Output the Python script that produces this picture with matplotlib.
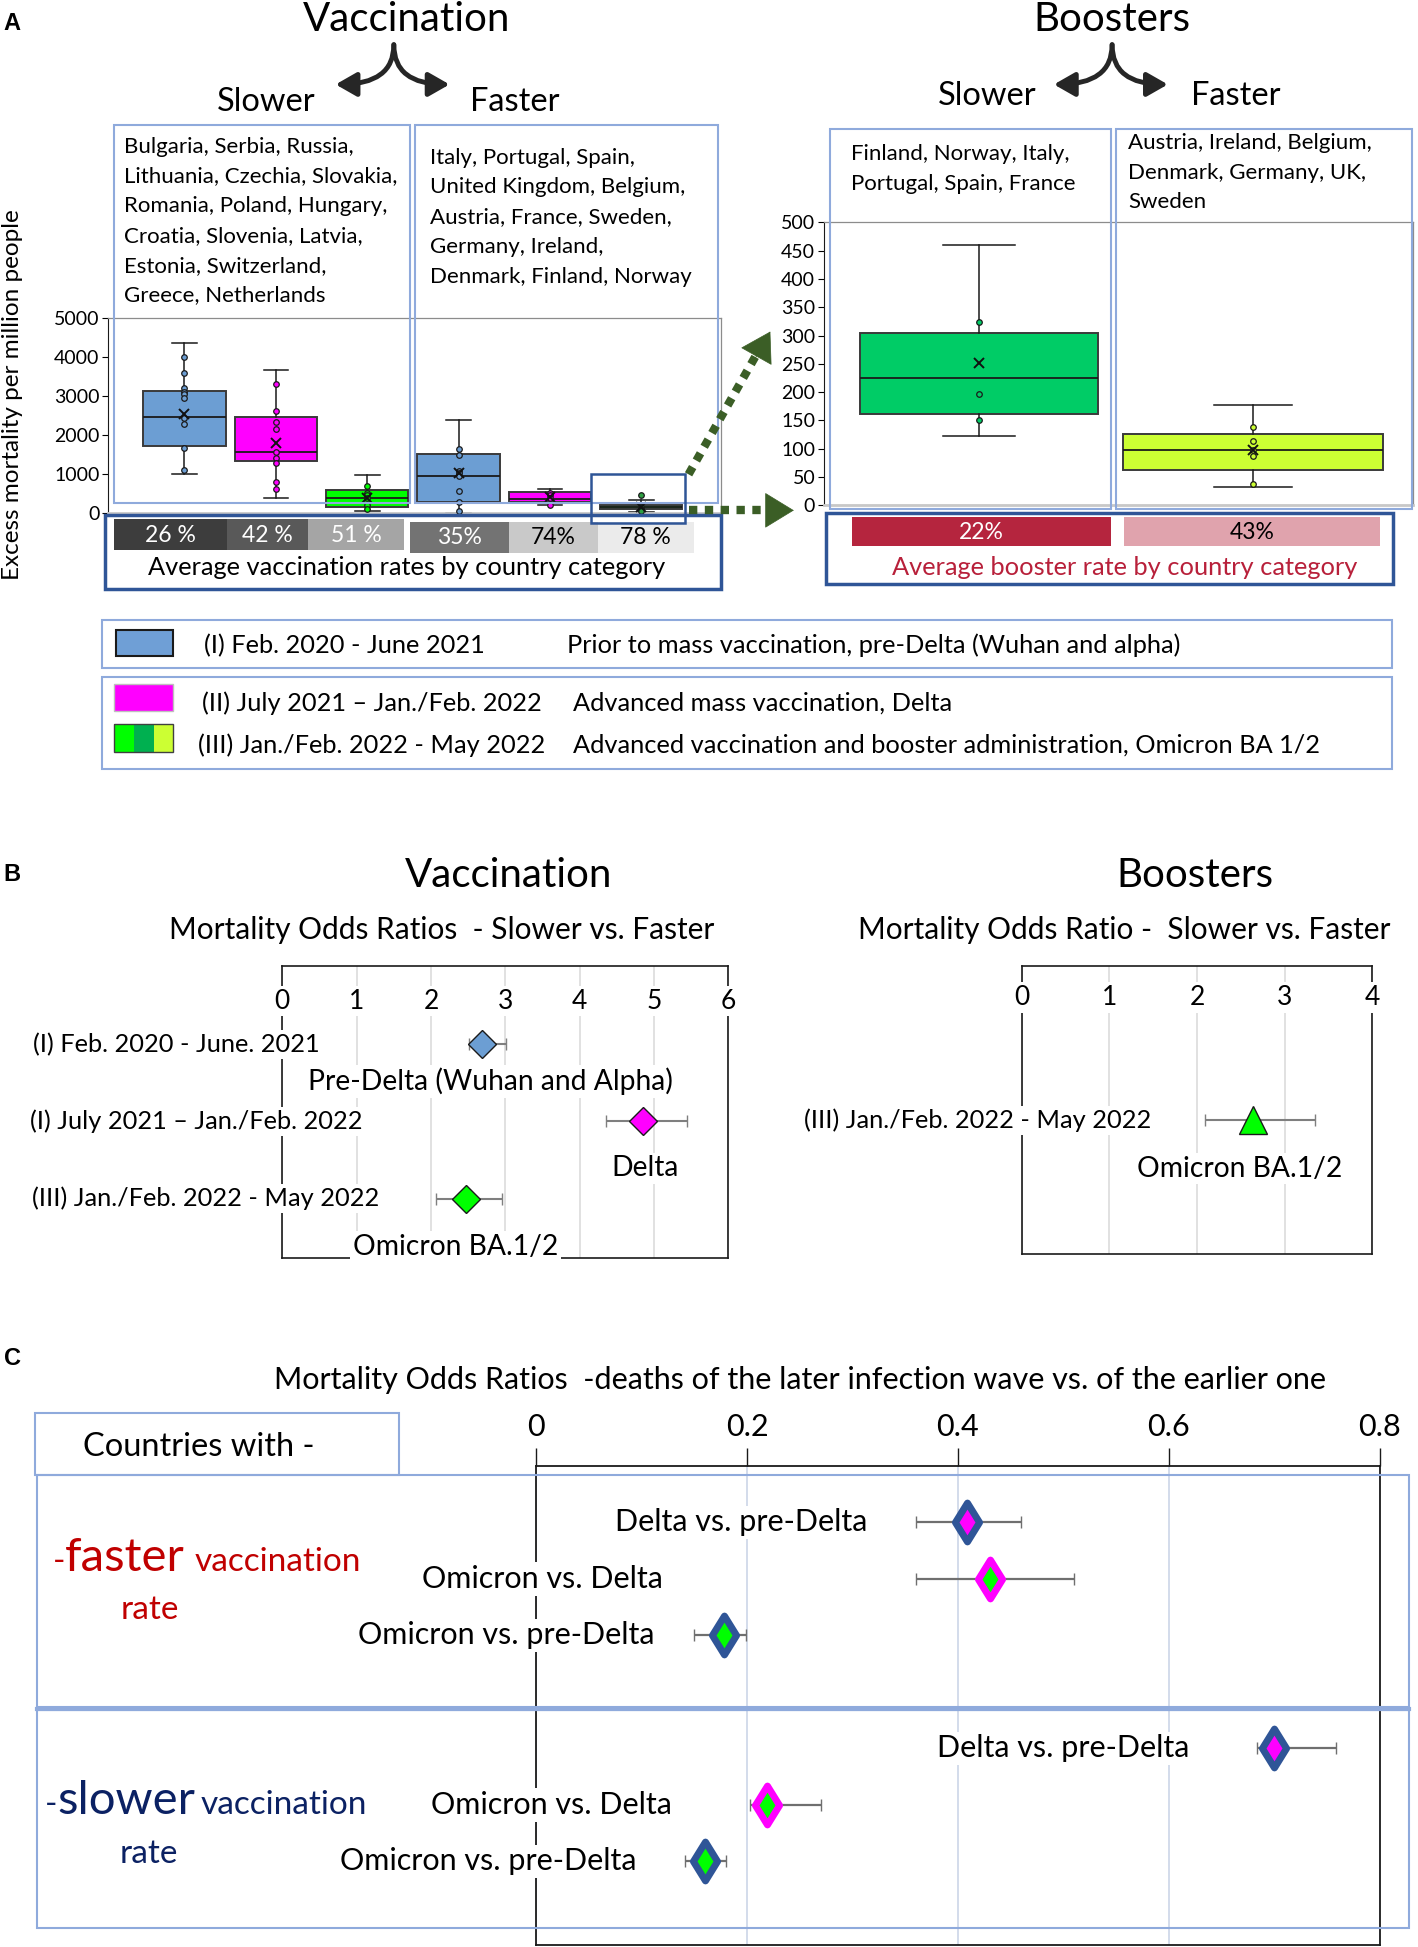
import matplotlib
matplotlib.use('Agg')
import matplotlib.pyplot as plt
from matplotlib.patches import Rectangle
from matplotlib.path import Path
import numpy as np

plt.rcParams['font.family'] = ['Lato', 'DejaVu Sans']

# ---------------- DATA ----------------
# Panel A: excess mortality per million people (box plot statistics)
vacc_groups = ['Slower I', 'Slower II', 'Slower III', 'Faster I', 'Faster II', 'Faster III']
vacc_q1 = [1707, 1328, 147, 270, 276, 103]
vacc_med = [2448, 1552, 388, 940, 362, 155]
vacc_q3 = [3129, 2448, 595, 1509, 534, 207]
vacc_wlo = [1000, 388, 52, 0, 190, 26]
vacc_whi = [4360, 3672, 974, 2370, 620, 319]
vacc_mean = [2530, 1800, 380, 1009, 410, 160]
vacc_points = [
    [4000, 3580, 3200, 3090, 3040, 2940, 2420, 2280, 1670, 1100],
    [3300, 2600, 2330, 2140, 1550, 1400, 1270, 780, 620],
    [680, 510, 450, 370, 190, 86],
    [1640, 1490, 1080, 1010, 940, 560, 280, 35],
    [510, 450, 390, 210],
    [465, 150, 103, 35],
]
vacc_rates = ['26 %', '42 %', '51 %', '35%', '74%', '78 %']

boost_groups = ['Slower III', 'Faster III']
boost_q1 = [162, 62]
boost_med = [225, 97]
boost_q3 = [305, 126]
boost_wlo = [122, 33]
boost_whi = [460, 177]
boost_mean = [251, 98]
boost_points = [[323, 197, 150], [138, 114, 97, 87, 37]]
boost_rates = ['22%', '43%']

slower_vacc_countries = ["Bulgaria, Serbia, Russia,", "Lithuania, Czechia, Slovakia,",
                         "Romania, Poland, Hungary,", "Croatia, Slovenia, Latvia,",
                         "Estonia, Switzerland,", "Greece, Netherlands"]
faster_vacc_countries = ["Italy, Portugal, Spain,", "United Kingdom, Belgium,",
                         "Austria, France, Sweden,", "Germany, Ireland,",
                         "Denmark, Finland, Norway"]
slower_boost_countries = ["Finland, Norway, Italy,", "Portugal, Spain, France"]
faster_boost_countries = ["Austria, Ireland, Belgium,", "Denmark, Germany, UK,", "Sweden"]

legend_periods = ["(I) Feb. 2020 - June 2021", "(II) July 2021 \u2013 Jan./Feb. 2022",
                  "(III) Jan./Feb. 2022 - May 2022"]
legend_desc = ["Prior to mass vaccination, pre-Delta (Wuhan and alpha)",
               "Advanced mass vaccination, Delta",
               "Advanced vaccination and booster administration, Omicron BA 1/2"]

# Panel B: odds ratios slower vs faster
b_labels = ["(I) Feb. 2020 - June. 2021", "(I) July 2021 \u2013 Jan./Feb. 2022",
            "(III) Jan./Feb. 2022 - May 2022"]
b_variants = ["Pre-Delta (Wuhan and Alpha)", "Delta", "Omicron BA.1/2"]
b_or = [2.69, 4.86, 2.47]
b_lo = [2.51, 4.36, 2.07]
b_hi = [3.01, 5.44, 2.96]
bb_labels = ["(III) Jan./Feb. 2022 - May 2022"]
bb_or = [2.64]
bb_lo = [2.09]
bb_hi = [3.35]

# Panel C: odds ratios later vs earlier wave
c_labels = ["Delta vs. pre-Delta", "Omicron vs. Delta", "Omicron vs. pre-Delta",
            "Delta vs. pre-Delta", "Omicron vs. Delta", "Omicron vs. pre-Delta"]
c_or = [0.409, 0.430, 0.178, 0.700, 0.219, 0.160]
c_lo = [0.360, 0.360, 0.150, 0.684, 0.203, 0.141]
c_hi = [0.460, 0.510, 0.199, 0.759, 0.270, 0.180]

# ---------------- STYLE ----------------
BLUE = '#6c9ed3'
MAG = '#ff00ff'
LGREEN = '#00ff00'
DGREEN = '#2ea043'
BGREEN = '#00cc66'
YGREEN = '#ccff33'
LBLUE_EDGE = '#8faadc'
DBLUE_EDGE = '#2f5597'
vacc_colors = [BLUE, MAG, LGREEN, BLUE, MAG, DGREEN]
boost_colors = [BGREEN, YGREEN]

W, H = 1145.0, 1568.0
fig = plt.figure(figsize=(14.18, 19.47), dpi=100)
fig.patch.set_facecolor('white')


def rect(x0, y0, x1, y1):
    return [x0 / W, 1 - y1 / H, (x1 - x0) / W, (y1 - y0) / H]


ov = fig.add_axes([0, 0, 1, 1], zorder=20)
ov.set_xlim(0, W)
ov.set_ylim(H, 0)
ov.axis('off')


def box(x0, y0, x1, y1, ec=LBLUE_EDGE, lw=1.5, fc='none', z=1):
    ov.add_patch(Rectangle((x0, y0), x1 - x0, y1 - y0, fc=fc, ec=ec, lw=lw,
                           fill=(fc != 'none'), zorder=z))


def T(x, y, s, size=13, ha='left', va='center', **kw):
    return ov.text(x, y, s, fontsize=size, ha=ha, va=va, **kw)


LETTER = dict(family=['Liberation Sans', 'DejaVu Sans'], weight='bold')

# ---------------- PANEL A ----------------
T(3, 19, 'A', 17, **LETTER)
T(328, 25, 'Vaccination', 29, ha='center', va='baseline')
T(898, 25, 'Boosters', 29, ha='center', va='baseline')
for cx in (318, 898):
    for dx in (-47, 45):
        ov.annotate('', xy=(cx + dx, 68), xytext=(cx, 36),
                    arrowprops=dict(arrowstyle='-|>,head_length=0.7,head_width=0.4',
                                    connectionstyle='angle3,angleA=90,angleB=0', lw=3.5,
                                    color='#262626', mutation_scale=18,
                                    shrinkA=0, shrinkB=0))
T(215, 82, 'Slower', 23.5, ha='center')
T(416, 82, 'Faster', 23.5, ha='center')
T(797, 77, 'Slower', 23.5, ha='center')
T(998, 77, 'Faster', 23.5, ha='center')

box(92, 101, 331, 405)
box(335, 101, 580, 405)
box(670, 104, 897, 410)
box(901, 104, 1140, 410)
CS = 16
for i, s in enumerate(slower_vacc_countries):
    T(100, 118 + 24 * i, s, CS)
for i, s in enumerate(faster_vacc_countries):
    T(347, 127 + 24 * i, s, CS)
for i, s in enumerate(slower_boost_countries):
    T(687, 124 + 24 * i, s, CS)
for i, s in enumerate(faster_boost_countries):
    T(911, 115 + 24 * i, s, CS)

T(10, 318, 'Excess mortality per million people', 17.5, ha='center', rotation=90)


def draw_box(ax, q1, med, q3, wlo, whi, mean, pts, colors, widths):
    stats = [dict(q1=a, med=b, q3=c, whislo=d, whishi=e, mean=f)
             for a, b, c, d, e, f in zip(q1, med, q3, wlo, whi, mean)]
    pos = np.arange(1, len(stats) + 1)
    bp = ax.bxp(stats, positions=pos, widths=widths,
                capwidths=[w * 0.3 for w in widths], patch_artist=True,
                showmeans=True, showfliers=False,
                meanprops=dict(marker='x', mec='#111111', ms=7, mew=1.4, zorder=6),
                medianprops=dict(color='#1a1a1a', lw=1.3),
                whiskerprops=dict(color='#1a1a1a', lw=1.1),
                capprops=dict(color='#1a1a1a', lw=1.1),
                boxprops=dict(lw=1.4))
    for patch, c in zip(bp['boxes'], colors):
        patch.set_facecolor(c)
        patch.set_edgecolor('#3a3a3a')
    for p, c, v in zip(pos, colors, pts):
        ax.scatter(np.full(len(v), p), v, s=16, facecolor=c, edgecolor='#1a1a1a',
                   lw=0.9, zorder=5)
    for side in ('top', 'right'):
        ax.spines[side].set_color('#8c8c8c')
        ax.spines[side].set_linewidth(0.9)
    ax.spines['bottom'].set_color('#c8c8c8')
    ax.spines['bottom'].set_linewidth(2.0)
    ax.spines['left'].set_color('#1a1a1a')
    ax.set_xticks([])
    ax.tick_params(axis='y', length=4, labelsize=14, pad=2)


axA1 = fig.add_axes(rect(87, 256, 582, 413), zorder=5)
draw_box(axA1, vacc_q1, vacc_med, vacc_q3, vacc_wlo, vacc_whi, vacc_mean,
         vacc_points, vacc_colors, [0.9] * 6)
axA1.set_xlim(0.16, 6.87)
axA1.set_ylim(0, 5000)
axA1.set_yticks(np.arange(0, 5001, 1000))

axA2 = fig.add_axes(rect(665, 179, 1141, 407), zorder=5)
draw_box(axA2, boost_q1, boost_med, boost_q3, boost_wlo, boost_whi, boost_mean,
         boost_points, boost_colors, [0.87, 0.95])
axA2.set_xlim(0.432, 2.586)
axA2.set_ylim(0, 500)
axA2.set_yticks(np.arange(0, 501, 50))

# vaccination-rate tiles
tiles = [(92, 183), (183, 249), (249, 326), (331, 411), (411, 483), (483, 560)]
tile_fc = ['#3d3d3d', '#595959', '#a5a5a5', '#737373', '#c9c9c9', '#ebebeb']
tile_tc = ['white', 'white', 'white', 'white', 'black', 'black']
for i, ((x0, x1), s) in enumerate(zip(tiles, vacc_rates)):
    y0 = 418 if i < 3 else 420
    box(x0, y0, x1, y0 + 25, ec='none', fc=tile_fc[i], lw=0)
    T((x0 + x1) / 2, y0 + 13, s, 16.5, ha='center', color=tile_tc[i])
box(85, 415, 582, 474, ec=DBLUE_EDGE, lw=2.5)
T(328, 457, 'Average vaccination rates by country category', 18.3, ha='center')
box(477, 382, 553, 421, ec=DBLUE_EDGE, lw=1.8)

# booster-rate tiles
btiles = [(688, 897), (908, 1114)]
btile_fc = ['#b5253e', '#e0a3ad']
btile_tc = ['white', 'black']
for (x0, x1), s, fc, tc in zip(btiles, boost_rates, btile_fc, btile_tc):
    box(x0, 416, x1, 440, ec='none', fc=fc, lw=0)
    T((x0 + x1) / 2, 429, s, 16.5, ha='center', color=tc)
box(667, 413, 1125, 470, ec=DBLUE_EDGE, lw=2.5)
T(908, 457, 'Average booster rate by country category', 18.3, ha='center',
  color='#b8203a')

# green dotted arrows
AG = '#3b5e26'
ov.plot([556, 610], [382, 287], color=AG, lw=6, ls=(0, (1, 0.9)),
        solid_capstyle='butt', zorder=3)
ov.annotate('', xy=(622, 267), xytext=(609, 290),
            arrowprops=dict(arrowstyle='-|>,head_length=0.9,head_width=0.55',
                            color=AG, lw=0.5, mutation_scale=22, shrinkA=0, shrinkB=0))
ov.plot([556, 624], [411, 411], color=AG, lw=6, ls=(0, (1, 0.9)),
        solid_capstyle='butt', zorder=3)
ov.annotate('', xy=(641, 411), xytext=(622, 411),
            arrowprops=dict(arrowstyle='-|>,head_length=0.9,head_width=0.55',
                            color=AG, lw=0.5, mutation_scale=22, shrinkA=0, shrinkB=0))

# legend
LS = 18.3
box(82, 499, 1124, 538)
box(94, 507, 140, 528, ec='#1a1a1a', fc='#6f9fd6', lw=1.5)
T(165, 520, legend_periods[0], LS)
T(458, 520, legend_desc[0], LS)
box(82, 545, 1124, 619)
box(92, 551, 140, 573, ec='#bfbfbf', fc=MAG, lw=1)
T(163, 566, legend_periods[1], LS)
T(463, 566, legend_desc[1], LS)
for (x0, x1), c in zip([(92, 108), (108, 124), (124, 140)], [LGREEN, '#00b050', YGREEN]):
    box(x0, 583, x1, 606, ec='none', fc=c, lw=0)
box(92, 583, 140, 606, ec='#404040', lw=1)
T(160, 600, legend_periods[2], LS)
T(463, 600, legend_desc[2], LS)

# ---------------- PANEL B ----------------
T(3, 704, 'B', 17, **LETTER)
T(411, 714, 'Vaccination', 29, ha='center', va='baseline')
T(965, 714, 'Boosters', 29, ha='center', va='baseline')
T(357, 749, 'Mortality Odds Ratios  - Slower vs. Faster', 21.5, ha='center')
T(908, 749, 'Mortality Odds Ratio -  Slower vs. Faster', 21.5, ha='center')

WB = dict(fc='white', ec='none', pad=2)


def forest_axes(r, xmax, ylim, ytop_frac):
    ax = fig.add_axes(r, zorder=6)
    ax.set_xlim(0, xmax)
    ax.set_ylim(*ylim)
    ax.set_xticks(range(xmax + 1))
    ax.set_yticks([])
    ax.grid(axis='x', color='#d9d9d9', lw=1.1)
    ax.tick_params(axis='x', length=0, labelbottom=False)
    for sp in ax.spines.values():
        sp.set_color('#1a1a1a')
        sp.set_linewidth(1.2)
    for v in range(xmax + 1):
        ax.text(v, ytop_frac, str(v), transform=ax.get_xaxis_transform(),
                fontsize=19, ha='center', va='center', bbox=WB, zorder=7)
    return ax


BL = 18.3
BV = 20.3
axB1 = forest_axes(rect(228, 778, 588, 1013), 6, (3.77, -0.016), 0.88)
yb = np.arange(1, 4)
axB1.errorbar(b_or, yb, xerr=[np.subtract(b_or, b_lo), np.subtract(b_hi, b_or)],
              fmt='none', ecolor='#7f7f7f', elinewidth=1.5, capsize=4, zorder=4)
for x, y, c in zip(b_or, yb, [BLUE, MAG, LGREEN]):
    axB1.plot([x], [y], marker='D', ms=14, mfc=c, mec='#1a1a1a', mew=1, zorder=5)
for y, s, xe in zip(yb, b_labels, [0.5, 1.08, 1.3]):
    axB1.text(xe, y, s, fontsize=BL, ha='right', va='center', bbox=WB, zorder=7,
              clip_on=False)
for (x, y), s in zip([(2.8, 1.48), (4.88, 2.61), (2.33, 3.63)], b_variants):
    axB1.text(x, y, s, fontsize=BV, ha='center', va='center', bbox=WB, zorder=7,
              clip_on=False)

axB2 = forest_axes(rect(825, 778, 1108, 1010), 4, (2.74, -1.0), 0.89)
yb2 = [1]
axB2.errorbar(bb_or, yb2, xerr=[np.subtract(bb_or, bb_lo), np.subtract(bb_hi, bb_or)],
              fmt='none', ecolor='#7f7f7f', elinewidth=1.5, capsize=4, zorder=4)
axB2.plot(bb_or, yb2, marker='^', ms=20, mfc=LGREEN, mec='#1a1a1a', mew=1, ls='none',
          zorder=5)
axB2.text(1.48, 1, bb_labels[0], fontsize=BL, ha='right', va='center', bbox=WB,
          zorder=7, clip_on=False)
axB2.text(2.49, 1.63, 'Omicron BA.1/2', fontsize=BV, ha='center', va='center',
          bbox=WB, zorder=7, clip_on=False)

# ---------------- PANEL C ----------------
T(3, 1094, 'C', 17, **LETTER)
T(646, 1111, 'Mortality Odds Ratios  -deaths of the later infection wave vs. of the earlier one',
  22, ha='center')
box(28, 1138, 322, 1188)
T(67, 1165, 'Countries with -', 23.5)
box(30, 1188, 1138, 1375)
box(30, 1377, 1138, 1553)
ov.plot([30, 1138], [1376, 1376], color=LBLUE_EDGE, lw=3, zorder=2)

RED = '#c00000'
NAVY = '#0b2163'
T(43, 1265, '-', 24, va='baseline', color=RED)
T(52, 1265, 'faster', 34, va='baseline', color=RED)
T(157, 1265, 'vaccination', 24, va='baseline', color=RED)
T(121, 1304, 'rate', 24, ha='center', va='baseline', color=RED)
T(36, 1461, '-', 24, va='baseline', color=NAVY)
T(46, 1461, 'slower', 34, va='baseline', color=NAVY)
T(162, 1461, 'vaccination', 24, va='baseline', color=NAVY)
T(120, 1500, 'rate', 24, ha='center', va='baseline', color=NAVY)

axC = fig.add_axes(rect(433, 1181, 1114, 1566), zorder=6)
axC.set_xlim(0, 0.8)
axC.set_ylim(8.47, 0.011)
axC.set_xticks([0, 0.2, 0.4, 0.6, 0.8])
axC.set_xticklabels(['0', '0.2', '0.4', '0.6', '0.8'])
axC.set_yticks([])
axC.xaxis.tick_top()
axC.tick_params(axis='x', length=13, width=1, labelsize=22, pad=5, color='#1a1a1a')
axC.grid(axis='x', color='#c8d2e6', lw=1.1)
for sp in axC.spines.values():
    sp.set_color('#1a1a1a')
    sp.set_linewidth(1.3)

yc = np.array([1, 2, 3, 5, 6, 7])
outer = [DBLUE_EDGE, MAG, DBLUE_EDGE, DBLUE_EDGE, MAG, DBLUE_EDGE]
inner = [MAG, LGREEN, LGREEN, MAG, LGREEN, LGREEN]
dpath = Path([(0, 1), (0.62, 0), (0, -1), (-0.62, 0), (0, 1)],
             [Path.MOVETO, Path.LINETO, Path.LINETO, Path.LINETO, Path.CLOSEPOLY])
axC.errorbar(c_or, yc, xerr=[np.subtract(c_or, c_lo), np.subtract(c_hi, c_or)],
             fmt='none', ecolor='#6f6f6f', elinewidth=1.6, capsize=4, zorder=4)
for x, y, o, i in zip(c_or, yc, outer, inner):
    axC.plot([x], [y], marker=dpath, ms=28, mfc=i, mec=o, mew=5, zorder=5)
for y, s, xe in zip(yc, c_labels, [0.314, 0.120, 0.112, 0.620, 0.129, 0.095]):
    axC.text(xe, y, s, fontsize=22, ha='right', va='center', bbox=WB, zorder=7,
             clip_on=False)

fig.savefig('out.png', dpi=100, facecolor='white')
